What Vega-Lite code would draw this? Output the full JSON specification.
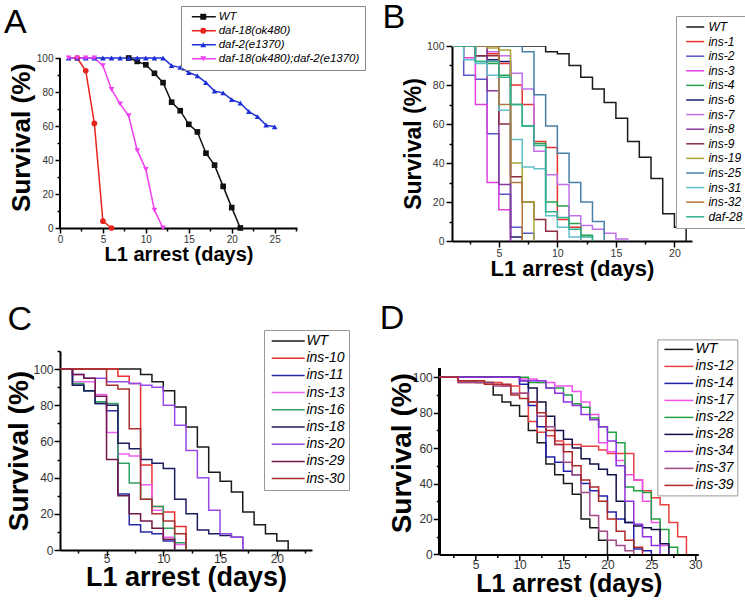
{
  "$schema": "https://vega.github.io/schema/vega-lite/v6.json",
  "background": "white",
  "padding": {"left": 4, "top": 0, "right": 0, "bottom": 0},
  "config": {
    "view": {"stroke": null},
    "font": "Liberation Sans",
    "axis": {"grid": false, "domainColor": "#000", "domainWidth": 2, "tickColor": "#000", "tickWidth": 1.5, "labelColor": "#333", "labelFont": "Liberation Sans", "titleFont": "Liberation Sans", "titleFontWeight": "bold", "titleColor": "#000", "labelOverlap": false, "labelFlush": false},
    "title": {"font": "Liberation Sans", "fontWeight": "normal", "color": "#000", "anchor": "start", "frame": "group", "offset": 0, "baseline": "alphabetic", "fontSize": 34}
  },
  "datasets": {
    "a": [
      {"s":"WT","d":8,"v":100},{"s":"WT","d":9,"v":98},{"s":"WT","d":10,"v":96},{"s":"WT","d":11,"v":91},{"s":"WT","d":12,"v":85.5},{"s":"WT","d":13,"v":74},{"s":"WT","d":14,"v":69},{"s":"WT","d":15,"v":61},{"s":"WT","d":16,"v":56.5},{"s":"WT","d":17,"v":44},{"s":"WT","d":18,"v":37},{"s":"WT","d":19,"v":24.5},{"s":"WT","d":20,"v":12},{"s":"WT","d":21,"v":0},
      {"s":"daf-18(ok480)","d":2,"v":100},{"s":"daf-18(ok480)","d":3,"v":92.5},{"s":"daf-18(ok480)","d":4,"v":61.5},{"s":"daf-18(ok480)","d":5,"v":4},{"s":"daf-18(ok480)","d":6,"v":0},
      {"s":"daf-2(e1370)","d":1,"v":100},{"s":"daf-2(e1370)","d":2,"v":100},{"s":"daf-2(e1370)","d":3,"v":100},{"s":"daf-2(e1370)","d":4,"v":100},{"s":"daf-2(e1370)","d":5,"v":100},{"s":"daf-2(e1370)","d":6,"v":100},{"s":"daf-2(e1370)","d":7,"v":100},{"s":"daf-2(e1370)","d":8,"v":100},{"s":"daf-2(e1370)","d":9,"v":100},{"s":"daf-2(e1370)","d":10,"v":100},{"s":"daf-2(e1370)","d":11,"v":100},{"s":"daf-2(e1370)","d":12,"v":100},{"s":"daf-2(e1370)","d":13,"v":95.5},{"s":"daf-2(e1370)","d":14,"v":94.5},{"s":"daf-2(e1370)","d":15,"v":91.5},{"s":"daf-2(e1370)","d":16,"v":89.5},{"s":"daf-2(e1370)","d":17,"v":85.5},{"s":"daf-2(e1370)","d":18,"v":80.5},{"s":"daf-2(e1370)","d":19,"v":79.5},{"s":"daf-2(e1370)","d":20,"v":75.5},{"s":"daf-2(e1370)","d":21,"v":73.5},{"s":"daf-2(e1370)","d":22,"v":68.5},{"s":"daf-2(e1370)","d":23,"v":65.5},{"s":"daf-2(e1370)","d":24,"v":60.5},{"s":"daf-2(e1370)","d":25,"v":59.5},
      {"s":"daf-18(ok480);daf-2(e1370)","d":1,"v":100},{"s":"daf-18(ok480);daf-2(e1370)","d":2,"v":100},{"s":"daf-18(ok480);daf-2(e1370)","d":3,"v":100},{"s":"daf-18(ok480);daf-2(e1370)","d":4,"v":100},{"s":"daf-18(ok480);daf-2(e1370)","d":5,"v":95.5},{"s":"daf-18(ok480);daf-2(e1370)","d":6,"v":81.5},{"s":"daf-18(ok480);daf-2(e1370)","d":7,"v":73},{"s":"daf-18(ok480);daf-2(e1370)","d":8,"v":66},{"s":"daf-18(ok480);daf-2(e1370)","d":9,"v":45.5},{"s":"daf-18(ok480);daf-2(e1370)","d":10,"v":34.5},{"s":"daf-18(ok480);daf-2(e1370)","d":11,"v":10.5},{"s":"daf-18(ok480);daf-2(e1370)","d":12,"v":0}
    ],
    "b": [
      {"s":"WT","d":0,"v":100},{"s":"WT","d":9,"v":97},{"s":"WT","d":10,"v":96},{"s":"WT","d":11,"v":90},{"s":"WT","d":12,"v":84},{"s":"WT","d":13,"v":78},{"s":"WT","d":14,"v":71},{"s":"WT","d":15,"v":63},{"s":"WT","d":16,"v":51},{"s":"WT","d":17,"v":43},{"s":"WT","d":18,"v":32},{"s":"WT","d":19,"v":14},{"s":"WT","d":20,"v":7},{"s":"WT","d":21,"v":0},
      {"s":"ins-1","d":0,"v":100},{"s":"ins-1","d":4,"v":96},{"s":"ins-1","d":5,"v":91},{"s":"ins-1","d":6,"v":80},{"s":"ins-1","d":7,"v":70},{"s":"ins-1","d":8,"v":51},{"s":"ins-1","d":9,"v":48},{"s":"ins-1","d":10,"v":11},{"s":"ins-1","d":11,"v":7},{"s":"ins-1","d":12,"v":0},
      {"s":"ins-2","d":0,"v":100},{"s":"ins-2","d":2,"v":85},{"s":"ins-2","d":3,"v":83},{"s":"ins-2","d":4,"v":55},{"s":"ins-2","d":5,"v":24},{"s":"ins-2","d":6,"v":7},{"s":"ins-2","d":7,"v":4},{"s":"ins-2","d":8,"v":0},
      {"s":"ins-3","d":0,"v":100},{"s":"ins-3","d":2,"v":94},{"s":"ins-3","d":3,"v":70},{"s":"ins-3","d":4,"v":30},{"s":"ins-3","d":5,"v":16},{"s":"ins-3","d":6,"v":0},
      {"s":"ins-4","d":0,"v":100},{"s":"ins-4","d":3,"v":92},{"s":"ins-4","d":4,"v":91},{"s":"ins-4","d":5,"v":85},{"s":"ins-4","d":6,"v":70},{"s":"ins-4","d":7,"v":59},{"s":"ins-4","d":8,"v":50},{"s":"ins-4","d":9,"v":20},{"s":"ins-4","d":10,"v":18},{"s":"ins-4","d":11,"v":9},{"s":"ins-4","d":12,"v":3},{"s":"ins-4","d":13,"v":0},
      {"s":"ins-6","d":0,"v":100},{"s":"ins-6","d":3,"v":95},{"s":"ins-6","d":4,"v":93},{"s":"ins-6","d":5,"v":92},{"s":"ins-6","d":6,"v":2},{"s":"ins-6","d":7,"v":0},
      {"s":"ins-7","d":0,"v":100},{"s":"ins-7","d":4,"v":97},{"s":"ins-7","d":5,"v":95},{"s":"ins-7","d":6,"v":86},{"s":"ins-7","d":7,"v":78},{"s":"ins-7","d":8,"v":46},{"s":"ins-7","d":9,"v":34},{"s":"ins-7","d":10,"v":29},{"s":"ins-7","d":11,"v":13},{"s":"ins-7","d":12,"v":8},{"s":"ins-7","d":13,"v":6},{"s":"ins-7","d":14,"v":4},{"s":"ins-7","d":15,"v":1},{"s":"ins-7","d":16,"v":0},
      {"s":"ins-8","d":0,"v":100},{"s":"ins-8","d":4,"v":77},{"s":"ins-8","d":5,"v":29},{"s":"ins-8","d":6,"v":0},
      {"s":"ins-9","d":0,"v":100},{"s":"ins-9","d":3,"v":95},{"s":"ins-9","d":5,"v":60},{"s":"ins-9","d":6,"v":33},{"s":"ins-9","d":7,"v":20},{"s":"ins-9","d":8,"v":11},{"s":"ins-9","d":9,"v":5},{"s":"ins-9","d":10,"v":0},
      {"s":"ins-19","d":0,"v":100},{"s":"ins-19","d":4,"v":99},{"s":"ins-19","d":5,"v":98},{"s":"ins-19","d":6,"v":40},{"s":"ins-19","d":7,"v":20},{"s":"ins-19","d":8,"v":0},
      {"s":"ins-25","d":0,"v":100},{"s":"ins-25","d":7,"v":97},{"s":"ins-25","d":8,"v":75},{"s":"ins-25","d":9,"v":59},{"s":"ins-25","d":10,"v":45},{"s":"ins-25","d":11,"v":30},{"s":"ins-25","d":12,"v":20},{"s":"ins-25","d":13,"v":10},{"s":"ins-25","d":14,"v":0},
      {"s":"ins-31","d":0,"v":100},{"s":"ins-31","d":2,"v":93},{"s":"ins-31","d":3,"v":91},{"s":"ins-31","d":4,"v":85},{"s":"ins-31","d":5,"v":67},{"s":"ins-31","d":6,"v":52},{"s":"ins-31","d":7,"v":38},{"s":"ins-31","d":8,"v":37},{"s":"ins-31","d":9,"v":13},{"s":"ins-31","d":10,"v":7},{"s":"ins-31","d":11,"v":2},{"s":"ins-31","d":12,"v":0},
      {"s":"ins-32","d":0,"v":100},{"s":"ins-32","d":5,"v":70},{"s":"ins-32","d":6,"v":30},{"s":"ins-32","d":7,"v":0},
      {"s":"daf-28","d":0,"v":100},{"s":"daf-28","d":3,"v":92},{"s":"daf-28","d":5,"v":84},{"s":"daf-28","d":6,"v":70},{"s":"daf-28","d":7,"v":59},{"s":"daf-28","d":8,"v":49},{"s":"daf-28","d":9,"v":15},{"s":"daf-28","d":10,"v":12},{"s":"daf-28","d":11,"v":6},{"s":"daf-28","d":12,"v":2},{"s":"daf-28","d":13,"v":0}
    ],
    "c": [
      {"s":"WT","d":0,"v":100},{"s":"WT","d":8,"v":97},{"s":"WT","d":9,"v":93},{"s":"WT","d":10,"v":88},{"s":"WT","d":11,"v":79},{"s":"WT","d":12,"v":68},{"s":"WT","d":13,"v":57},{"s":"WT","d":14,"v":43},{"s":"WT","d":15,"v":38},{"s":"WT","d":16,"v":32},{"s":"WT","d":17,"v":21},{"s":"WT","d":18,"v":14},{"s":"WT","d":19,"v":9},{"s":"WT","d":20,"v":5},{"s":"WT","d":21,"v":0},
      {"s":"ins-10","d":0,"v":100},{"s":"ins-10","d":6,"v":96},{"s":"ins-10","d":7,"v":92},{"s":"ins-10","d":8,"v":47},{"s":"ins-10","d":9,"v":24},{"s":"ins-10","d":10,"v":21},{"s":"ins-10","d":11,"v":13},{"s":"ins-10","d":12,"v":0},
      {"s":"ins-11","d":0,"v":100},{"s":"ins-11","d":2,"v":91},{"s":"ins-11","d":3,"v":88},{"s":"ins-11","d":4,"v":81},{"s":"ins-11","d":5,"v":77},{"s":"ins-11","d":6,"v":31},{"s":"ins-11","d":7,"v":14},{"s":"ins-11","d":8,"v":10},{"s":"ins-11","d":9,"v":9},{"s":"ins-11","d":10,"v":5},{"s":"ins-11","d":11,"v":0},
      {"s":"ins-13","d":0,"v":100},{"s":"ins-13","d":2,"v":93},{"s":"ins-13","d":4,"v":86},{"s":"ins-13","d":5,"v":65},{"s":"ins-13","d":6,"v":53},{"s":"ins-13","d":7,"v":52},{"s":"ins-13","d":8,"v":36},{"s":"ins-13","d":9,"v":22},{"s":"ins-13","d":10,"v":7},{"s":"ins-13","d":11,"v":3},{"s":"ins-13","d":12,"v":0},
      {"s":"ins-16","d":0,"v":100},{"s":"ins-16","d":2,"v":92},{"s":"ins-16","d":3,"v":88},{"s":"ins-16","d":4,"v":82},{"s":"ins-16","d":5,"v":81},{"s":"ins-16","d":6,"v":48},{"s":"ins-16","d":7,"v":37},{"s":"ins-16","d":8,"v":28},{"s":"ins-16","d":9,"v":24},{"s":"ins-16","d":10,"v":12},{"s":"ins-16","d":11,"v":4},{"s":"ins-16","d":12,"v":0},
      {"s":"ins-18","d":0,"v":100},{"s":"ins-18","d":2,"v":91},{"s":"ins-18","d":3,"v":88},{"s":"ins-18","d":4,"v":81},{"s":"ins-18","d":5,"v":80},{"s":"ins-18","d":6,"v":59},{"s":"ins-18","d":7,"v":56},{"s":"ins-18","d":8,"v":50},{"s":"ins-18","d":9,"v":48},{"s":"ins-18","d":10,"v":45},{"s":"ins-18","d":11,"v":28},{"s":"ins-18","d":12,"v":20},{"s":"ins-18","d":13,"v":11},{"s":"ins-18","d":14,"v":9},{"s":"ins-18","d":15,"v":8},{"s":"ins-18","d":16,"v":7},{"s":"ins-18","d":17,"v":0},
      {"s":"ins-20","d":0,"v":100},{"s":"ins-20","d":2,"v":97},{"s":"ins-20","d":3,"v":95},{"s":"ins-20","d":5,"v":93},{"s":"ins-20","d":7,"v":92},{"s":"ins-20","d":8,"v":91},{"s":"ins-20","d":9,"v":90},{"s":"ins-20","d":10,"v":80},{"s":"ins-20","d":11,"v":69},{"s":"ins-20","d":12,"v":55},{"s":"ins-20","d":13,"v":40},{"s":"ins-20","d":14,"v":22},{"s":"ins-20","d":15,"v":9},{"s":"ins-20","d":16,"v":7},{"s":"ins-20","d":17,"v":0},
      {"s":"ins-29","d":0,"v":100},{"s":"ins-29","d":2,"v":97},{"s":"ins-29","d":3,"v":95},{"s":"ins-29","d":4,"v":85},{"s":"ins-29","d":5,"v":50},{"s":"ins-29","d":6,"v":30},{"s":"ins-29","d":7,"v":20},{"s":"ins-29","d":8,"v":16},{"s":"ins-29","d":9,"v":12},{"s":"ins-29","d":10,"v":6},{"s":"ins-29","d":11,"v":0},
      {"s":"ins-30","d":0,"v":100},{"s":"ins-30","d":5,"v":91},{"s":"ins-30","d":6,"v":89},{"s":"ins-30","d":7,"v":67},{"s":"ins-30","d":8,"v":28},{"s":"ins-30","d":9,"v":20},{"s":"ins-30","d":10,"v":16},{"s":"ins-30","d":11,"v":9},{"s":"ins-30","d":12,"v":0}
    ],
    "d": [
      {"s":"WT","d":0,"v":100},{"s":"WT","d":3,"v":98},{"s":"WT","d":5,"v":97},{"s":"WT","d":7,"v":90},{"s":"WT","d":8,"v":86},{"s":"WT","d":9,"v":84},{"s":"WT","d":10,"v":78},{"s":"WT","d":11,"v":70},{"s":"WT","d":12,"v":63},{"s":"WT","d":13,"v":51},{"s":"WT","d":14,"v":45},{"s":"WT","d":15,"v":40},{"s":"WT","d":16,"v":34},{"s":"WT","d":17,"v":20},{"s":"WT","d":18,"v":15},{"s":"WT","d":19,"v":8},{"s":"WT","d":20,"v":0},
      {"s":"ins-12","d":0,"v":100},{"s":"ins-12","d":3,"v":97},{"s":"ins-12","d":8,"v":95},{"s":"ins-12","d":10,"v":91},{"s":"ins-12","d":11,"v":75},{"s":"ins-12","d":12,"v":69},{"s":"ins-12","d":13,"v":67},{"s":"ins-12","d":14,"v":64},{"s":"ins-12","d":15,"v":62},{"s":"ins-12","d":17,"v":61},{"s":"ins-12","d":19,"v":59},{"s":"ins-12","d":20,"v":57},{"s":"ins-12","d":23,"v":42},{"s":"ins-12","d":24,"v":36},{"s":"ins-12","d":25,"v":32},{"s":"ins-12","d":26,"v":28},{"s":"ins-12","d":27,"v":18},{"s":"ins-12","d":28,"v":10},{"s":"ins-12","d":29,"v":0},
      {"s":"ins-14","d":0,"v":100},{"s":"ins-14","d":10,"v":96},{"s":"ins-14","d":11,"v":84},{"s":"ins-14","d":12,"v":72},{"s":"ins-14","d":13,"v":55},{"s":"ins-14","d":14,"v":52},{"s":"ins-14","d":15,"v":47},{"s":"ins-14","d":16,"v":45},{"s":"ins-14","d":17,"v":40},{"s":"ins-14","d":18,"v":36},{"s":"ins-14","d":19,"v":33},{"s":"ins-14","d":20,"v":24},{"s":"ins-14","d":21,"v":20},{"s":"ins-14","d":22,"v":18},{"s":"ins-14","d":23,"v":3},{"s":"ins-14","d":24,"v":2},{"s":"ins-14","d":25,"v":0},
      {"s":"ins-17","d":0,"v":100},{"s":"ins-17","d":10,"v":99},{"s":"ins-17","d":12,"v":97},{"s":"ins-17","d":14,"v":95},{"s":"ins-17","d":16,"v":92},{"s":"ins-17","d":17,"v":86},{"s":"ins-17","d":18,"v":79},{"s":"ins-17","d":19,"v":63},{"s":"ins-17","d":20,"v":58},{"s":"ins-17","d":21,"v":53},{"s":"ins-17","d":22,"v":45},{"s":"ins-17","d":23,"v":42},{"s":"ins-17","d":24,"v":30},{"s":"ins-17","d":25,"v":18},{"s":"ins-17","d":26,"v":5},{"s":"ins-17","d":27,"v":0},
      {"s":"ins-22","d":0,"v":100},{"s":"ins-22","d":11,"v":97},{"s":"ins-22","d":13,"v":94},{"s":"ins-22","d":15,"v":90},{"s":"ins-22","d":16,"v":85},{"s":"ins-22","d":17,"v":83},{"s":"ins-22","d":18,"v":77},{"s":"ins-22","d":19,"v":72},{"s":"ins-22","d":20,"v":69},{"s":"ins-22","d":21,"v":63},{"s":"ins-22","d":22,"v":38},{"s":"ins-22","d":23,"v":36},{"s":"ins-22","d":24,"v":35},{"s":"ins-22","d":25,"v":20},{"s":"ins-22","d":26,"v":14},{"s":"ins-22","d":27,"v":4},{"s":"ins-22","d":28,"v":0},
      {"s":"ins-28","d":0,"v":100},{"s":"ins-28","d":10,"v":98},{"s":"ins-28","d":11,"v":94},{"s":"ins-28","d":12,"v":86},{"s":"ins-28","d":13,"v":78},{"s":"ins-28","d":14,"v":70},{"s":"ins-28","d":15,"v":65},{"s":"ins-28","d":16,"v":60},{"s":"ins-28","d":17,"v":54},{"s":"ins-28","d":18,"v":51},{"s":"ins-28","d":19,"v":48},{"s":"ins-28","d":20,"v":45},{"s":"ins-28","d":21,"v":30},{"s":"ins-28","d":22,"v":18},{"s":"ins-28","d":23,"v":16},{"s":"ins-28","d":24,"v":15},{"s":"ins-28","d":25,"v":14},{"s":"ins-28","d":26,"v":6},{"s":"ins-28","d":27,"v":0},
      {"s":"ins-34","d":0,"v":100},{"s":"ins-34","d":10,"v":98},{"s":"ins-34","d":13,"v":94},{"s":"ins-34","d":14,"v":91},{"s":"ins-34","d":15,"v":86},{"s":"ins-34","d":16,"v":84},{"s":"ins-34","d":17,"v":79},{"s":"ins-34","d":18,"v":76},{"s":"ins-34","d":19,"v":72},{"s":"ins-34","d":20,"v":64},{"s":"ins-34","d":21,"v":50},{"s":"ins-34","d":22,"v":30},{"s":"ins-34","d":23,"v":17},{"s":"ins-34","d":24,"v":10},{"s":"ins-34","d":25,"v":5},{"s":"ins-34","d":26,"v":0},
      {"s":"ins-37","d":0,"v":100},{"s":"ins-37","d":3,"v":97},{"s":"ins-37","d":7,"v":95},{"s":"ins-37","d":9,"v":91},{"s":"ins-37","d":11,"v":86},{"s":"ins-37","d":12,"v":78},{"s":"ins-37","d":13,"v":72},{"s":"ins-37","d":14,"v":62},{"s":"ins-37","d":15,"v":52},{"s":"ins-37","d":16,"v":45},{"s":"ins-37","d":17,"v":35},{"s":"ins-37","d":18,"v":22},{"s":"ins-37","d":19,"v":13},{"s":"ins-37","d":20,"v":8},{"s":"ins-37","d":21,"v":5},{"s":"ins-37","d":22,"v":2},{"s":"ins-37","d":23,"v":0},
      {"s":"ins-39","d":0,"v":100},{"s":"ins-39","d":3,"v":98},{"s":"ins-39","d":6,"v":96},{"s":"ins-39","d":9,"v":90},{"s":"ins-39","d":10,"v":88},{"s":"ins-39","d":11,"v":86},{"s":"ins-39","d":12,"v":80},{"s":"ins-39","d":13,"v":70},{"s":"ins-39","d":14,"v":62},{"s":"ins-39","d":15,"v":58},{"s":"ins-39","d":16,"v":50},{"s":"ins-39","d":17,"v":42},{"s":"ins-39","d":18,"v":38},{"s":"ins-39","d":19,"v":30},{"s":"ins-39","d":20,"v":20},{"s":"ins-39","d":21,"v":13},{"s":"ins-39","d":22,"v":8},{"s":"ins-39","d":23,"v":4},{"s":"ins-39","d":24,"v":0}
    ]
  },
  "spacing": 22,
  "resolve": {"scale": {"color": "independent", "fill": "independent", "stroke": "independent", "shape": "independent"}, "legend": {"color": "independent", "fill": "independent", "stroke": "independent", "shape": "independent"}},
  "vconcat": [
    {
      "spacing": 16,
      "resolve": {"scale": {"color": "independent", "fill": "independent", "stroke": "independent", "shape": "independent"}, "legend": {"color": "independent", "fill": "independent", "stroke": "independent", "shape": "independent"}},
      "hconcat": [
        {
          "width": 237, "height": 182,
          "title": {"text": "A", "dx": -56, "dy": 38},
          "data": {"name": "a"},
          "encoding": {
            "x": {"field": "d", "type": "quantitative", "scale": {"domain": [0, 27.6], "nice": false, "zero": false},
              "axis": {"values": [0,2.5,5,7.5,10,12.5,15,17.5,20,22.5,25,27.5], "labelExpr": "datum.value % 5 === 0 ? datum.label : ''", "tickSize": {"condition": {"test": "datum.value % 5 === 0", "value": 5}, "value": 3}, "labelFontSize": 10, "labelPadding": 1, "title": "L1 arrest (days)", "titleFontSize": 20, "titlePadding": 0}},
            "y": {"field": "v", "type": "quantitative", "scale": {"domain": [0, 107.06], "nice": false},
              "axis": {"domain": false, "values": [0,10,20,30,40,50,60,70,80,90,100], "labelExpr": "datum.value % 20 === 0 ? datum.label : ''", "tickSize": {"condition": {"test": "datum.value % 20 === 0", "value": 5}, "value": 3}, "labelFontSize": 10, "labelPadding": 2, "title": "Survival (%)", "titleFontSize": 26, "titlePadding": 2}}
          },
          "layer": [
            {"mark": {"type": "rule", "strokeWidth": 2, "color": "#000"},
             "encoding": {"x": {"datum": 0}, "y": {"datum": 0}, "y2": {"datum": 100}}},
            {"mark": {"type": "line", "strokeWidth": 1.5},
             "encoding": {"stroke": {"field": "s", "type": "nominal", "sort": ["WT","daf-18(ok480)","daf-2(e1370)","daf-18(ok480);daf-2(e1370)"], "scale": {"range": ["#111111","#e8231c","#1e2fd6","#f040f0"]},
               "legend": {"orient": "none", "legendX": 121, "legendY": -40, "title": null, "symbolType": "M-5,0H5", "symbolSize": 23, "symbolStrokeWidth": 1.5, "symbolOffset": 12.1, "labelOffset": 9.1, "labelFontStyle": "italic", "labelFontSize": 11.5, "labelColor": "#000", "strokeColor": "#888", "padding": 5, "rowPadding": 1}}}},
            {"mark": {"type": "point", "filled": true, "size": 32, "opacity": 1},
             "encoding": {
               "color": {"field": "s", "type": "nominal", "scale": {"domain": ["WT","daf-18(ok480)","daf-2(e1370)","daf-18(ok480);daf-2(e1370)"], "range": ["#111111","#e8231c","#1e2fd6","#f040f0"]},
                 "legend": {"orient": "none", "legendX": 121, "legendY": -40, "title": null, "symbolSize": 36, "symbolOffset": 11.5, "labelOffset": 9, "labelFontStyle": "italic", "labelFontSize": 11.5, "labelOpacity": 0, "padding": 5, "rowPadding": 1, "symbolOpacity": 1}},
               "shape": {"field": "s", "type": "nominal", "scale": {"domain": ["WT","daf-18(ok480)","daf-2(e1370)","daf-18(ok480);daf-2(e1370)"], "range": ["square","circle","triangle-up","triangle-down"]},
                 "legend": {"orient": "none", "legendX": 121, "legendY": -40, "title": null, "symbolSize": 36, "symbolOffset": 11.5, "labelOffset": 9, "labelFontStyle": "italic", "labelFontSize": 11.5, "labelOpacity": 0, "padding": 5, "rowPadding": 1, "symbolOpacity": 1}}}}
          ]
        },
        {
          "width": 240, "height": 195,
          "title": {"text": "B", "dx": -69.5, "dy": 23},
          "data": {"name": "b"},
          "mark": {"type": "line", "interpolate": "step-after", "strokeWidth": 1.5, "clip": true},
          "encoding": {
            "x": {"field": "d", "type": "quantitative", "scale": {"domain": [1, 21.5], "nice": false, "zero": false},
              "axis": {"values": [2.5,5,7.5,10,12.5,15,17.5,20], "labelExpr": "datum.value % 5 === 0 ? datum.label : ''", "tickSize": {"condition": {"test": "datum.value % 5 === 0", "value": 6}, "value": 3}, "labelFontSize": 10.5, "labelPadding": 1, "title": "L1 arrest (days)", "titleFontSize": 22, "titlePadding": 0}},
            "y": {"field": "v", "type": "quantitative", "scale": {"domain": [0, 100], "nice": false},
              "axis": {"values": [0,10,20,30,40,50,60,70,80,90,100], "labelExpr": "datum.value % 20 === 0 ? datum.label : ''", "tickSize": {"condition": {"test": "datum.value % 20 === 0", "value": 6}, "value": 3}, "labelFontSize": 10.5, "labelPadding": 2, "title": "Survival (%)", "titleFontSize": 23, "titlePadding": 1}},
            "color": {"field": "s", "type": "nominal", "sort": null,
              "scale": {"domain": ["WT","ins-1","ins-2","ins-3","ins-4","ins-6","ins-7","ins-8","ins-9","ins-19","ins-25","ins-31","ins-32","daf-28"], "range": ["#1a1a1a","#e8302c","#5858c8","#e040e0","#28a050","#1c1c70","#c070e8","#8a3aa0","#8c2c40","#a8a838","#4880a8","#60c0c8","#b07838","#30b090"]},
              "legend": {"orient": "none", "legendX": 224, "legendY": -30, "title": null, "symbolType": "M-5,0H5", "symbolSize": 13, "symbolStrokeWidth": 1.5, "symbolOffset": 8.2, "labelOffset": 7.2, "labelFontStyle": "italic", "labelFontSize": 12, "labelColor": "#000", "strokeColor": "#999", "fillColor": "white", "padding": 5, "rowPadding": 2.6}}
          }
        }
      ]
    },
    {
      "spacing": 29.3,
      "resolve": {"scale": {"color": "independent", "fill": "independent", "stroke": "independent", "shape": "independent"}, "legend": {"color": "independent", "fill": "independent", "stroke": "independent", "shape": "independent"}},
      "hconcat": [
        {
          "width": 252, "height": 199,
          "title": {"text": "C", "dx": -52.5, "dy": 11},
          "data": {"name": "c"},
          "mark": {"type": "line", "interpolate": "step-after", "strokeWidth": 1.5, "clip": true},
          "encoding": {
            "x": {"field": "d", "type": "quantitative", "scale": {"domain": [0.9, 23.1], "nice": false, "zero": false},
              "axis": {"values": [2.5,5,7.5,10,12.5,15,17.5,20,22.5], "labelExpr": "datum.value % 5 === 0 ? datum.label : ''", "tickSize": {"condition": {"test": "datum.value % 5 === 0", "value": 6}, "value": 3}, "labelFontSize": 12, "labelPadding": -3, "title": "L1 arrest (days)", "titleFontSize": 27, "titlePadding": 0}},
            "y": {"field": "v", "type": "quantitative", "scale": {"domain": [0, 110], "nice": false},
              "axis": {"values": [0,10,20,30,40,50,60,70,80,90,100,110], "labelExpr": "datum.value % 20 === 0 && datum.value <= 100 ? datum.label : ''", "tickSize": {"condition": {"test": "datum.value % 20 === 0", "value": 6}, "value": 3}, "labelFontSize": 12, "labelPadding": 1, "title": "Survival (%)", "titleFontSize": 28, "titlePadding": -1}},
            "color": {"field": "s", "type": "nominal", "sort": null,
              "scale": {"domain": ["WT","ins-10","ins-11","ins-13","ins-16","ins-18","ins-20","ins-29","ins-30"], "range": ["#1a1a1a","#e83030","#2a2aa8","#f060f0","#30a060","#1c1c60","#9848e8","#701848","#a83030"]},
              "legend": {"orient": "none", "legendX": 204, "legendY": -21, "title": null, "symbolType": "M-5,0H5", "symbolSize": 43.6, "symbolStrokeWidth": 1.5, "symbolOffset": 13.2, "labelOffset": 11.2, "labelFontStyle": "italic", "labelFontSize": 14, "labelColor": "#000", "strokeColor": "#999", "fillColor": "white", "padding": 4, "rowPadding": 3.2}}
          }
        },
        {
          "width": 259, "height": 203.4,
          "title": {"text": "D", "dx": -59.6, "dy": 1.3},
          "data": {"name": "d"},
          "encoding": {
            "x": {"field": "d", "type": "quantitative", "scale": {"domain": [0.86, 30.35], "nice": false, "zero": false},
              "axis": {"values": [2.5,5,7.5,10,12.5,15,17.5,20,22.5,25,27.5,30], "labelExpr": "datum.value % 5 === 0 ? datum.label : ''", "tickSize": {"condition": {"test": "datum.value % 5 === 0", "value": 6}, "value": 3}, "labelFontSize": 12, "labelPadding": -1, "title": "L1 arrest (days)", "titleFontSize": 25, "titlePadding": 1}},
            "y": {"field": "v", "type": "quantitative", "scale": {"domain": [0, 114.82], "nice": false},
              "axis": {"domain": false, "values": [0,10,20,30,40,50,60,70,80,90,100], "labelExpr": "datum.value % 20 === 0 ? datum.label : ''", "tickSize": {"condition": {"test": "datum.value % 20 === 0", "value": 6}, "value": 3}, "labelFontSize": 12, "labelPadding": 1, "title": "Survival (%)", "titleFontSize": 28, "titlePadding": -4}}
          },
          "layer": [
            {"mark": {"type": "rule", "strokeWidth": 2, "color": "#000"},
             "encoding": {"x": {"datum": 0.86}, "y": {"datum": 0}, "y2": {"datum": 105}}},
            {"mark": {"type": "line", "interpolate": "step-after", "strokeWidth": 1.5, "clip": true},
             "encoding": {
               "color": {"field": "s", "type": "nominal", "sort": null,
                 "scale": {"domain": ["WT","ins-12","ins-14","ins-17","ins-22","ins-28","ins-34","ins-37","ins-39"], "range": ["#1a1a1a","#e84040","#2020a8","#f050f0","#20a040","#101048","#9030e0","#a04888","#b02828"]},
                 "legend": {"orient": "none", "legendX": 218, "legendY": -11.6, "title": null, "symbolType": "M-5,0H5", "symbolSize": 33.6, "symbolStrokeWidth": 1.5, "symbolOffset": 11.6, "labelOffset": 9.6, "labelFontStyle": "italic", "labelFontSize": 14, "labelColor": "#000", "strokeColor": "#999", "fillColor": "white", "padding": 3, "rowPadding": 3}}}}
          ]
        }
      ]
    }
  ]
}
